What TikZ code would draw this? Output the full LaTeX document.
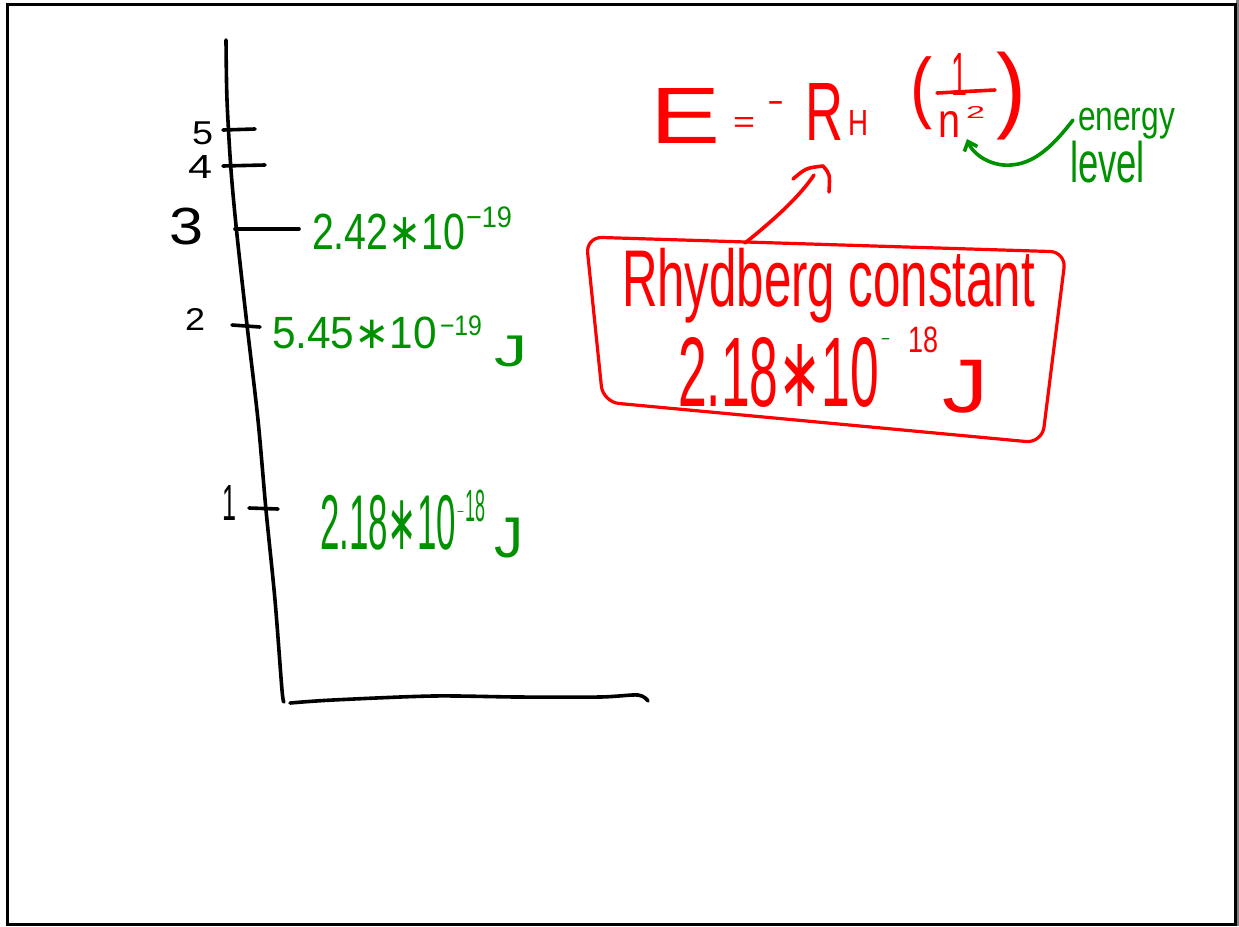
\documentclass[tikz,border=0pt]{standalone}
\usepackage{graphicx}
\usepackage{fontspec}
\setmainfont{Liberation Sans}
\newfontfamily\dvsans{DejaVu Sans}
\usetikzlibrary{arrows.meta}
\definecolor{hwred}{RGB}{255,0,0}
\definecolor{hwgreen}{RGB}{0,145,0}
\newcommand\hwtext[3]{\resizebox*{#1pt}{#2pt}{#3}}
\newcommand\hwast{{\dvsans ∗}}
\begin{document}
\begin{tikzpicture}[x=1pt,y=-1pt,
  ink/.style={line width=3.6pt, line cap=round, line join=round},
  lbl/.style={inner sep=0pt, outer sep=0pt, anchor=north west},
  blk/.style={lbl, text=black},
  grn/.style={lbl, text=hwgreen},
  rd/.style={lbl, text=hwred}]
\useasboundingbox (0,0) rectangle (1239,926);
\fill[white] (0,0) rectangle (1239,926);
\fill[gray] (1236,0) rectangle (1239,926);
\draw[line width=3pt] (7,4) rectangle (1235,924);

% axes
\draw[ink] plot[smooth] coordinates {(226,40) (227,100) (231,170) (237,235) (247,325) (258,420) (266,510) (275,600) (282,690) (284,702)};
\draw[ink] plot[smooth] coordinates {(290,703) (333,700) (433,696) (517,697) (600,697) (638,695) (648,701)};

% ticks
\draw[ink] (223,130) -- (255,129);
\draw[ink] (223,166) -- (265,165);
\draw[ink] (235,229) -- (299,229);
\draw[ink] (232,325) -- (260,327);
\draw[ink] (249,508) -- (278,509);

% level numbers
\node[blk] (n5) at (192,122) {\hwtext{21}{23}{5}};
\node[blk] (n4) at (188,155) {\hwtext{24}{23}{4}};
\node[blk] (n3) at (169,208) {\hwtext{34}{37}{3}};
\node[blk] (n2) at (185,308) {\hwtext{20}{22}{2}};
\node[blk] (n1) at (222,485) {\hwtext{14}{35}{1}};

% green energies
\node[grn] (g3) at (312,214) {\hwtext{153}{36}{2.42\hwast10}};
\node[grn] (g3s) at (466,207) {\hwtext{46}{21}{−19}};
\node[grn] (g2) at (272,317) {\hwtext{165}{32}{5.45\hwast10}};
\node[grn] (g2s) at (440,316) {\hwtext{42}{20}{−19}};
\node[grn] (g2j) at (494,336) {\hwtext{33}{31}{J}};
\node[grn] (g1) at (320,495) {\hwtext{136}{55}{2.18\hwast10}};
\node[grn] (g1m) at (457,511) {\hwtext{7}{5}{−}};
\node[grn] (g1s) at (465,490) {\hwtext{20}{32}{18}};
\node[grn] (g1j) at (494,518) {\hwtext{29}{40}{J}};

% equation
\node[rd] (rE) at (650,88) {\hwtext{70}{55}{E}};
\node[rd] (req) at (733,117) {\hwtext{22}{15}{=}};
\node[rd] (rmin) at (768,101) {\hwtext{15}{14}{−}};
\node[rd] (rR) at (805,83) {\hwtext{38}{57}{R}};
\node[rd] (rH) at (848,110) {\hwtext{20}{25}{H}};
\node[rd] (rlp) at (910,57) {\hwtext{22}{73}{(}};
\node[rd] (rone) at (951,53) {\hwtext{16}{42}{1}};
\draw[hwred, ink] (937,93) -- (995,90);
\node[rd] (rn) at (938,111) {\hwtext{22}{26}{n}};
\node[rd] (rsq) at (966,106) {\hwtext{19}{12}{2}};
\node[rd] (rrp) at (996,52) {\hwtext{30}{88}{)}};

% energy level note
\node[grn] (energy) at (1078,108) {\hwtext{97}{31}{energy}};
\node[grn] (level) at (1070,141) {\hwtext{75}{42}{level}};
\coordinate (gstart) at (1073,120);
\coordinate (gtip) at (967,139);
\draw[hwgreen, ink, -{Straight Barb[length=8pt,width=14pt]}] (gstart) .. controls (1050,150) and (1030,167) .. (1003,165) .. controls (985,163) and (972,152) .. (gtip);

% Rydberg box
\draw[hwred, line width=3.2pt, line cap=round, line join=round, rounded corners=16pt] (586,237) -- (1066,252) -- (1042,443) -- (603,402) -- cycle;
\node[rd] (ryd) at (622,248) {\hwtext{413}{75}{Rhydberg constant}};
\node[rd] (rval) at (678,337) {\hwtext{201}{70}{2.18\hwast10}};
\node[grn] (rvm) at (881,338) {\hwtext{9}{7}{−}};
\node[rd] (rvs) at (908,327) {\hwtext{30}{26}{18}};
\node[rd] (rvj) at (942,360) {\hwtext{46}{53}{J}};

% arrow from box to R_H
\coordinate (boxtop) at (745,243);
\coordinate (rtip) at (823,166);
\draw[hwred, ink] (boxtop) .. controls (775,219) and (800,196) .. (814,175);
\draw[hwred, ink] (793,179) .. controls (806,168) .. (rtip) .. controls (830,174) .. (829,192);
\end{tikzpicture}
\end{document}
